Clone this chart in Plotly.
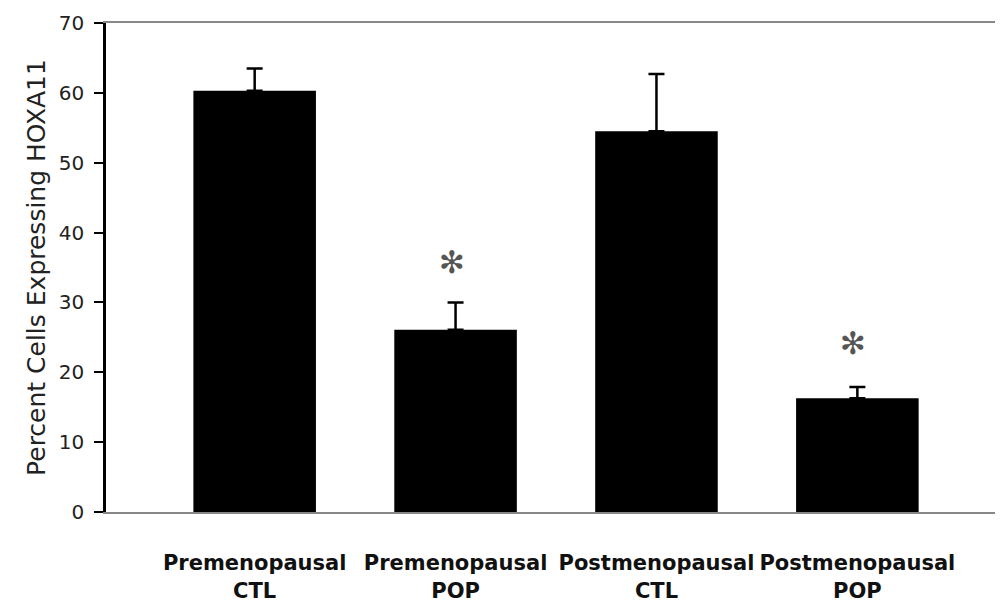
import plotly.graph_objects as go

categories = ["Premenopausal<br>CTL", "Premenopausal<br>POP", "Postmenopausal<br>CTL", "Postmenopausal<br>POP"]
values = [60.3, 26.1, 54.5, 16.3]
errors = [3.2, 3.9, 8.2, 1.6]
star_y = [None, 35.8, None, 24.2]
y_ticks = [0, 10, 20, 30, 40, 50, 60, 70]

xpos = list(range(len(categories)))

fig = go.Figure()
fig.add_trace(go.Bar(
    x=xpos, y=values, width=0.61,
    marker=dict(color="black", line=dict(width=0)),
    error_y=dict(type="data", array=errors, symmetric=False, arrayminus=[0]*4,
                 color="black", thickness=2.5, width=8, visible=True),
    showlegend=False,
))

for i, sy in enumerate(star_y):
    if sy is not None:
        fig.add_annotation(x=xpos[i] - 0.02, y=sy, text="✻", showarrow=False,
                           font=dict(size=31, color="#555555", family="DejaVu Sans"),
                           xanchor="center", yanchor="middle")

fig.update_layout(
    width=995, height=602,
    margin=dict(l=98, r=3, t=12, b=98),
    plot_bgcolor="white", paper_bgcolor="white",
    font=dict(family="DejaVu Sans", color="#111111"),
    bargap=0.4,
)
fig.update_xaxes(
    range=[-0.74, 3.71], tickvals=xpos, ticktext=categories,
    showline=True, linecolor="#888888", linewidth=2, mirror=True,
    ticks="", showgrid=False, zeroline=False,
    tickfont=dict(size=21, family="DejaVu Sans", color="#111111", weight="bold"),
    ticklabelstandoff=31,
)
fig.update_yaxes(
    range=[0, 70], tickvals=y_ticks, ticks="outside", ticklen=9, tickwidth=2, tickcolor="black",
    showline=True, linecolor="black", linewidth=2.5,
    showgrid=False, zeroline=False,
    tickfont=dict(size=20, family="DejaVu Sans", color="#222222"),
    ticklabelstandoff=6,
    title=dict(text="Percent Cells Expressing HOXA11", font=dict(size=25, family="DejaVu Sans", color="#222222"), standoff=7),
)
fig.add_shape(type="line", xref="paper", yref="paper", x0=1, x1=1, y0=0, y1=1,
              line=dict(color="#888888", width=2))

fig.write_html("out.html")
